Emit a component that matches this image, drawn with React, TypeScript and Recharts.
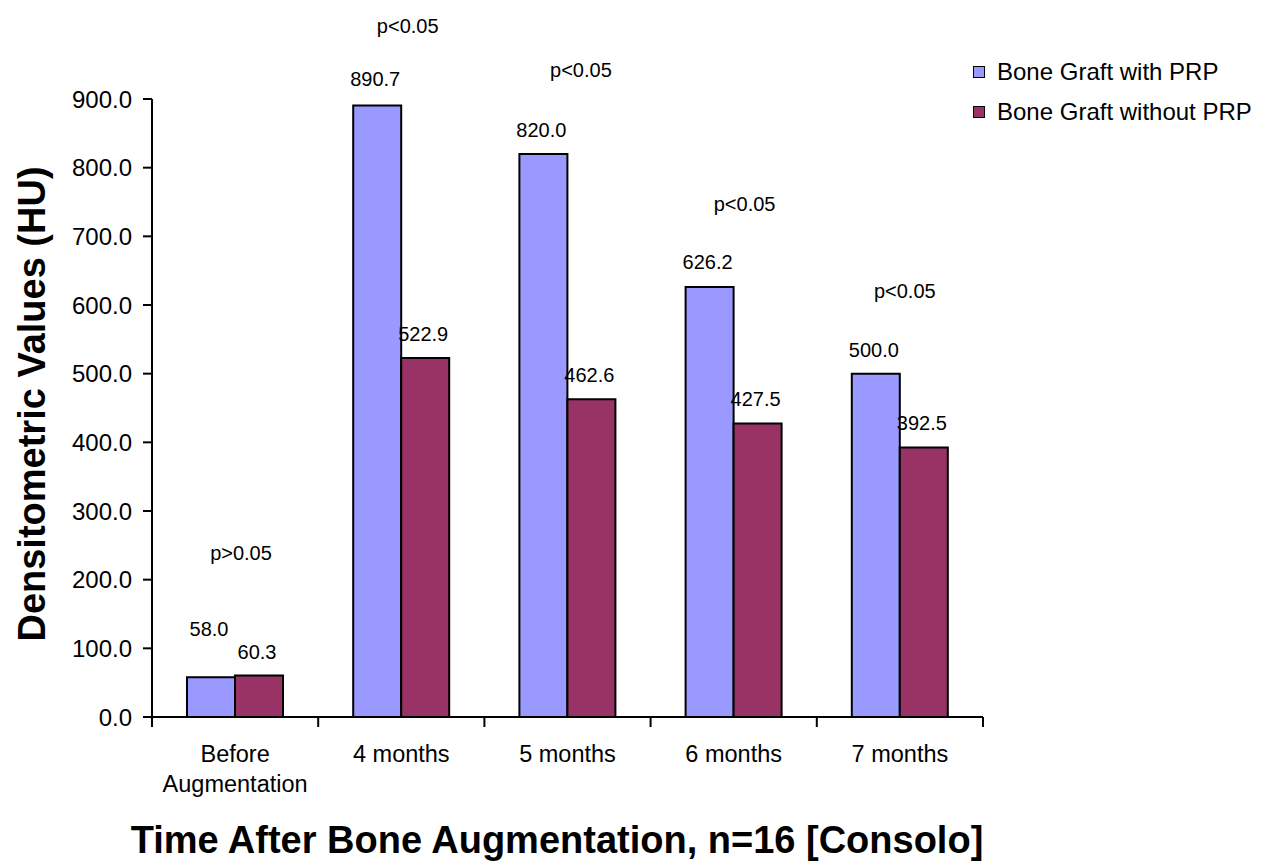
import React from 'react';
import { BarChart, Bar, XAxis, YAxis, LabelList, Legend } from 'recharts';

// ---------- data ----------
const categories = ['Before\nAugmentation', '4 months', '5 months', '6 months', '7 months'];
const withPRP = [58.0, 890.7, 820.0, 626.2, 500.0];
const withoutPRP = [60.3, 522.9, 462.6, 427.5, 392.5];
const pValues = ['p>0.05', 'p<0.05', 'p<0.05', 'p<0.05', 'p<0.05'];
const yTicks = [0, 100, 200, 300, 400, 500, 600, 700, 800, 900];
const seriesNames = ['Bone Graft with PRP', 'Bone Graft without PRP'];

const data = categories.map((c, i) => ({
  category: c,
  withPRP: withPRP[i],
  withoutPRP: withoutPRP[i],
  p: pValues[i],
}));

// ---------- layout / style ----------
const W = 1261;
const H = 862;
const PLOT_LEFT = 152;
const PLOT_RIGHT = 983;
const PLOT_TOP = 99;
const PLOT_BOTTOM = 717;
const BAND = (PLOT_RIGHT - PLOT_LEFT) / categories.length;
const FONT = '"Liberation Sans", Arial, Helvetica, sans-serif';
const BLUE = '#9999FF';
const MAROON = '#993366';
const LINE_W = 2;

// annotation placement (pixel offsets, not data)
const P_DX = [6, 6.5, 13.5, 11, 5];
const P_DY = [-124, -79, -84, -83, -83];
const PRP_LABEL_LIFT = [48, 26, 24, 25, 24];
const NOPRP_LABEL_LIFT = [24, 24, 24, 24, 24];

const CatTick = (props: any) => {
  const { x, y, payload, index } = props;
  const lines = String(payload.value).split('\n');
  const isLast = index === categories.length - 1 || payload.value === categories[categories.length - 1];
  return (
    <g>
      <line x1={x - BAND / 2} x2={x - BAND / 2} y1={y} y2={y + 10} stroke="#000" strokeWidth={LINE_W} />
      {isLast && <line x1={x + BAND / 2} x2={x + BAND / 2} y1={y} y2={y + 10} stroke="#000" strokeWidth={LINE_W} />}
      <text x={x} y={y} textAnchor="middle" fontFamily={FONT} fontSize={23.5} fill="#000">
        {lines.map((l, i) => (
          <tspan key={i} x={x} y={y + 45 + i * 30}>
            {l}
          </tspan>
        ))}
      </text>
    </g>
  );
};

const makeValueLabel = (lift: number[]) => (props: any) => {
  const { x, y, width, value, index } = props;
  return (
    <text
      x={Number(x) + Number(width) / 2 - 2}
      y={Number(y) - lift[index]}
      textAnchor="middle"
      dominantBaseline="central"
      fontFamily={FONT}
      fontSize={20}
      fill="#000"
    >
      {Number(value).toFixed(1)}
    </text>
  );
};

const PLabel = (props: any) => {
  const { x, y, width, value, index } = props;
  const cx = Number(x) + Number(width);
  return (
    <text
      x={cx + P_DX[index]}
      y={Number(y) + P_DY[index]}
      textAnchor="middle"
      dominantBaseline="central"
      fontFamily={FONT}
      fontSize={20}
      fill="#000"
    >
      {value}
    </text>
  );
};

const XTitle = () => (
  <text x={557} y={853} textAnchor="middle" fontFamily={FONT} fontWeight="bold" fontSize={38} fill="#000">
    Time After Bone Augmentation, n=16 [Consolo]
  </text>
);

const YTitle = () => (
  <text
    x={45}
    y={404}
    transform="rotate(-90 45 404)"
    textAnchor="middle"
    fontFamily={FONT}
    fontWeight="bold"
    fontSize={38}
    fill="#000"
  >
    Densitometric Values (HU)
  </text>
);

const LegendContent = (props: any) => {
  const payload = props.payload && props.payload.length ? props.payload : [];
  const items = seriesNames.map((n, i) => ({
    name: n,
    color: payload[i] && payload[i].color ? payload[i].color : i === 0 ? BLUE : MAROON,
  }));
  return (
    <div style={{ fontFamily: FONT, fontSize: 24, color: '#000' }}>
      {items.map((it) => (
        <div key={it.name} style={{ display: 'flex', alignItems: 'center', height: 40, whiteSpace: 'nowrap' }}>
          <span
            style={{
              display: 'inline-block',
              width: 10,
              height: 10,
              border: '1px solid #000',
              background: it.color,
              marginRight: 12,
            }}
          />
          {it.name}
        </div>
      ))}
    </div>
  );
};

export default function App() {
  return (
    <div style={{ position: 'absolute', left: 0, top: 0, width: W, height: H, background: '#fff' }}>
      <BarChart
        width={W}
        height={H}
        data={data}
        margin={{ top: PLOT_TOP, right: W - PLOT_RIGHT, bottom: 0, left: 0 }}
        barGap={0}
        barSize={48}
      >
        <XAxis
          dataKey="category"
          height={H - PLOT_BOTTOM}
          interval={0}
          tickLine={false}
          tickSize={0}
          tickMargin={0}
          axisLine={{ stroke: '#000', strokeWidth: LINE_W }}
          tick={(p: any) => <CatTick {...p} />}
          label={<XTitle />}
        />
        <YAxis
          width={PLOT_LEFT}
          domain={[0, 900]}
          ticks={yTicks}
          interval={0}
          tickFormatter={(v: number) => v.toFixed(1)}
          tick={{ fill: '#000', fontSize: 24, fontFamily: FONT }}
          tickSize={9}
          tickMargin={11}
          stroke="#000"
          axisLine={{ stroke: '#000', strokeWidth: LINE_W }}
          tickLine={{ stroke: '#000', strokeWidth: LINE_W }}
          label={<YTitle />}
        />
        <Legend
          layout="vertical"
          align="center"
          verticalAlign="middle"
          wrapperStyle={{ left: 973, top: 52, width: 288 }}
          content={<LegendContent />}
        />
        <Bar
          dataKey="withPRP"
          name={seriesNames[0]}
          fill={BLUE}
          stroke="#000"
          strokeWidth={LINE_W}
          isAnimationActive={false}
        >
          <LabelList dataKey="withPRP" content={makeValueLabel(PRP_LABEL_LIFT)} />
          <LabelList dataKey="p" content={<PLabel />} />
        </Bar>
        <Bar
          dataKey="withoutPRP"
          name={seriesNames[1]}
          fill={MAROON}
          stroke="#000"
          strokeWidth={LINE_W}
          isAnimationActive={false}
        >
          <LabelList dataKey="withoutPRP" content={makeValueLabel(NOPRP_LABEL_LIFT)} />
        </Bar>
      </BarChart>
    </div>
  );
}
